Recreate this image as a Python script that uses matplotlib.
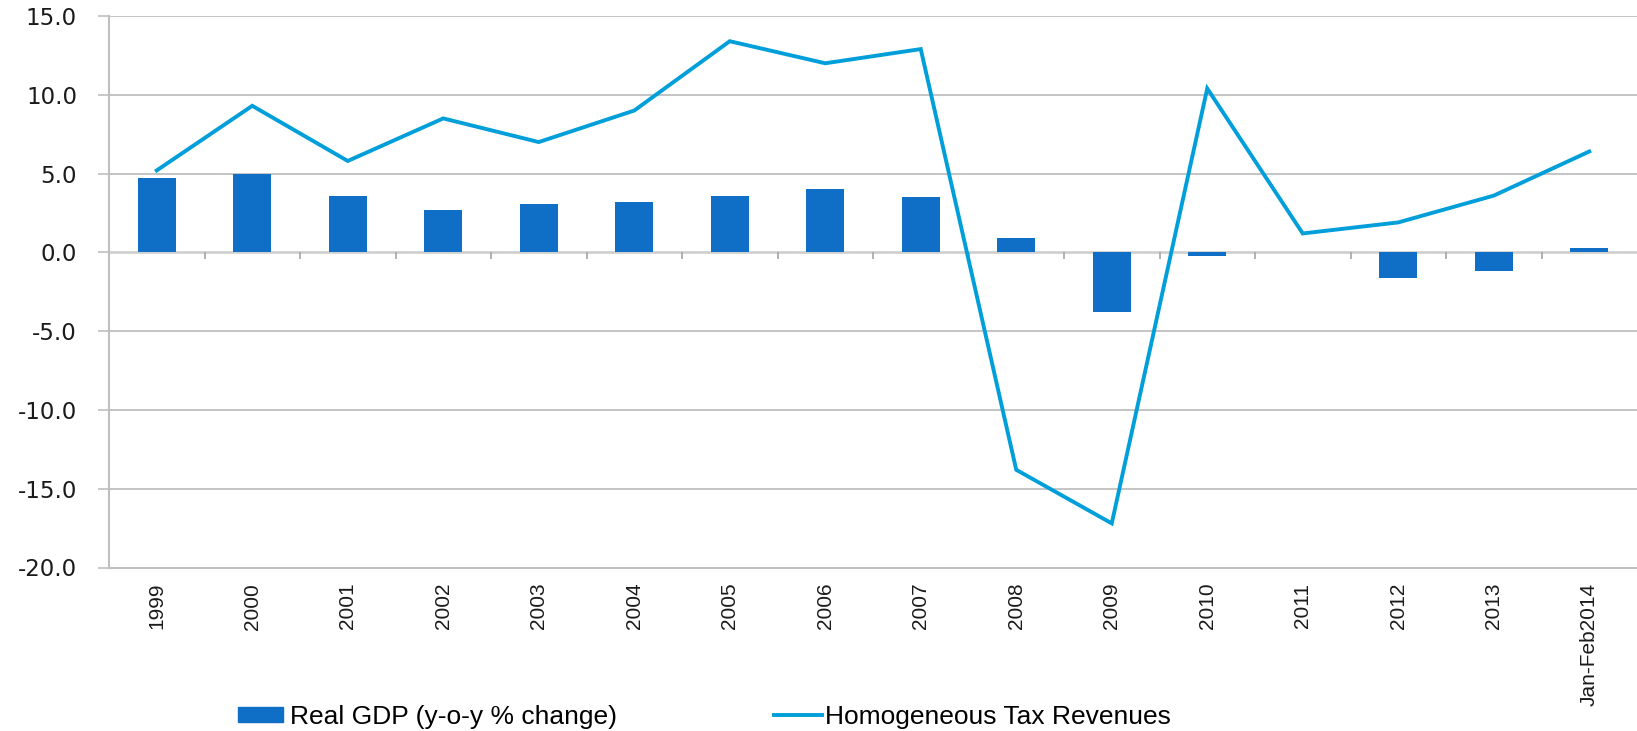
import numpy as np
import matplotlib
matplotlib.use('Agg')
import matplotlib.pyplot as plt
from matplotlib.patches import Patch
from matplotlib.lines import Line2D

# data
categories = ['1999', '2000', '2001', '2002', '2003', '2004', '2005', '2006',
              '2007', '2008', '2009', '2010', '2011', '2012', '2013', 'Jan-Feb2014']
gdp = [4.7, 5.0, 3.6, 2.7, 3.1, 3.2, 3.6, 4.0, 3.5, 0.9, -3.8, -0.2, 0.0, -1.6, -1.2, 0.3]
tax = [5.2, 9.3, 5.8, 8.5, 7.0, 9.0, 13.4, 12.0, 12.9, -13.8, -17.2, 10.4, 1.2, 1.9, 3.6, 6.4]
yticks = [-20, -15, -10, -5, 0, 5, 10, 15]

bar_col = '#0F6EC6'
line_col = '#009FDA'
grid_col = '#BFBFBF'

fig = plt.figure(figsize=(16.37, 7.31), dpi=100)
ax = fig.add_axes([109 / 1637, 1 - 567.5 / 731, 1 - 109 / 1637, (567.5 - 16) / 731])

x = np.arange(len(categories))

# gridlines
for v in yticks:
    if v == 0:
        continue
    ax.axhline(v, color=grid_col, lw=1.3, zorder=0)

ax.bar(x, gdp, width=0.4, color=bar_col, zorder=2)
ax.plot(x, tax, color=line_col, lw=2.8, solid_joinstyle='miter', zorder=3)

# category axis sitting at zero, with tick marks between categories
ax.axhline(0, color='#D0D0D0', lw=2.0, zorder=1)
ax.vlines(x[1:] - 0.5, 0, -0.45, color='#A6A6A6', lw=1.2, zorder=1)

ax.set_xlim(-0.5, len(categories) - 0.5)
ax.set_ylim(-20, 15)

ax.set_yticks(yticks)
ax.set_yticklabels(['%.1f' % v for v in yticks], fontsize=16.5, family='DejaVu Sans', color='#1a1a1a')
ax.tick_params(axis='y', length=8, width=1.2, color=grid_col, pad=15)

ax.set_xticks(x)
ax.set_xticklabels(categories, rotation=90, fontsize=15, family='Liberation Sans', color='#1a1a1a')
ax.tick_params(axis='x', length=0, pad=11)

for s in ['top', 'right']:
    ax.spines[s].set_visible(False)
ax.spines['left'].set_color(grid_col)
ax.spines['left'].set_linewidth(1.5)
ax.spines['bottom'].set_color(grid_col)
ax.spines['bottom'].set_linewidth(1.5)

# legend, two entries placed separately along the bottom
leg_font = {'family': 'Liberation Sans', 'size': 19}
l1 = fig.legend(handles=[Patch(color=bar_col, label='Real GDP (y-o-y % change)')],
                loc='center left', bbox_to_anchor=(238 / 1637, 1 - 717 / 731),
                frameon=False, prop=leg_font, borderpad=0, borderaxespad=0,
                handlelength=1.7, handleheight=0.5, handletextpad=0.27)
l2 = fig.legend(handles=[Line2D([], [], color=line_col, lw=2.8, label='Homogeneous Tax Revenues')],
                loc='center left', bbox_to_anchor=(774 / 1637, 1 - 717 / 731),
                frameon=False, prop=leg_font, borderpad=0, borderaxespad=0,
                handlelength=1.8, handletextpad=0.15)

fig.savefig('out.png', dpi=100)
